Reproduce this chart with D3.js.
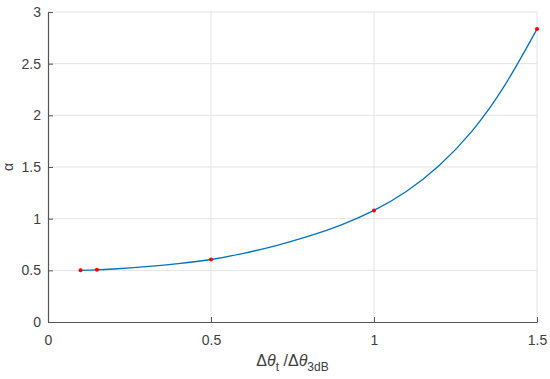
<!DOCTYPE html>
<html>
<head>
<meta charset="utf-8">
<script src="https://cdn.jsdelivr.net/npm/d3@7"></script>
<style>
  html, body { margin: 0; padding: 0; background: #fff; }
  svg { display: block; font-family: "Liberation Sans", Arial, sans-serif; }
</style>
</head>
<body>
<div id="app"></div>
<script>
// curve
const curveX = [0.1, 0.15, 0.2, 0.3, 0.4, 0.5, 0.6, 0.7, 0.8, 0.9, 1.0, 1.1, 1.2, 1.3, 1.4, 1.5];
const curveY = [0.50, 0.505, 0.513, 0.535, 0.565, 0.605, 0.665, 0.74, 0.83, 0.94, 1.08, 1.265, 1.515, 1.845, 2.285, 2.835];

// red markers
const markX = [0.1, 0.15, 0.5, 1.0, 1.5];
const markY = [0.50, 0.505, 0.605, 1.08, 2.835];

const xTicks = [0, 0.5, 1, 1.5];
const yTicks = [0, 0.5, 1, 1.5, 2, 2.5, 3];

const width = 550, height = 379;
const m = { left: 48, right: 13, top: 12, bottom: 57 };

const svg = d3.select('#app').append('svg')
  .attr('width', width)
  .attr('height', height);

const x = d3.scaleLinear().domain([0, 1.5]).range([m.left, width - m.right]);
const y = d3.scaleLinear().domain([0, 3]).range([height - m.bottom, m.top]);

const textColor = '#404040';
const gridColor = '#e3e3e3';

// grid
svg.append('g')
  .selectAll('line')
  .data(xTicks.slice(1))
  .join('line')
  .attr('x1', d => x(d)).attr('x2', d => x(d))
  .attr('y1', y(0)).attr('y2', y(3))
  .attr('stroke', gridColor);

svg.append('g')
  .selectAll('line')
  .data(yTicks.slice(1))
  .join('line')
  .attr('x1', x(0)).attr('x2', x(1.5))
  .attr('y1', d => y(d)).attr('y2', d => y(d))
  .attr('stroke', gridColor);

// axes (ticks pointing inward like matlab)
const axX = svg.append('g')
  .attr('transform', `translate(0,${y(0)})`)
  .call(d3.axisBottom(x).tickValues(xTicks).tickSizeInner(-5).tickSizeOuter(0).tickPadding(13)
    .tickFormat(d3.format('')));
const axY = svg.append('g')
  .attr('transform', `translate(${x(0)},0)`)
  .call(d3.axisLeft(y).tickValues(yTicks).tickSizeInner(-5).tickSizeOuter(0).tickPadding(7)
    .tickFormat(d3.format('')));

[axX, axY].forEach(g => {
  g.select('.domain').attr('stroke', '#555').attr('stroke-width', 1.2);
  g.selectAll('.tick line').attr('stroke', '#555');
  g.selectAll('.tick text').attr('fill', textColor).style('font-size', '14px');
});

// curve
const line = d3.line()
  .x(d => x(d[0]))
  .y(d => y(d[1]))
  .curve(d3.curveNatural);

svg.append('path')
  .datum(curveX.map((v, i) => [v, curveY[i]]))
  .attr('fill', 'none')
  .attr('stroke', '#0072BD')
  .attr('stroke-width', 1.3)
  .attr('d', line);

svg.append('g')
  .selectAll('circle')
  .data(markX.map((v, i) => [v, markY[i]]))
  .join('circle')
  .attr('cx', d => x(d[0]))
  .attr('cy', d => y(d[1]))
  .attr('r', 2)
  .attr('fill', '#ff0000');

// labels
const xl = svg.append('text')
  .attr('x', (x(0) + x(1.5)) / 2)
  .attr('y', 366)
  .attr('text-anchor', 'middle')
  .attr('fill', textColor)
  .style('font-size', '16px');
xl.append('tspan').text('Δ');
xl.append('tspan').attr('font-style', 'italic').text('θ');
xl.append('tspan').attr('dy', 5).style('font-size', '12px').text('t');
xl.append('tspan').attr('dy', -5).text(' /Δ');
xl.append('tspan').attr('font-style', 'italic').text('θ');
xl.append('tspan').attr('dy', 5).style('font-size', '12px').text('3dB');

svg.append('text')
  .attr('transform', `translate(13,${(y(0) + y(3)) / 2}) rotate(-90)`)
  .attr('text-anchor', 'middle')
  .attr('fill', textColor)
  .style('font-size', '14px')
  .text('α');
</script>
</body>
</html>
